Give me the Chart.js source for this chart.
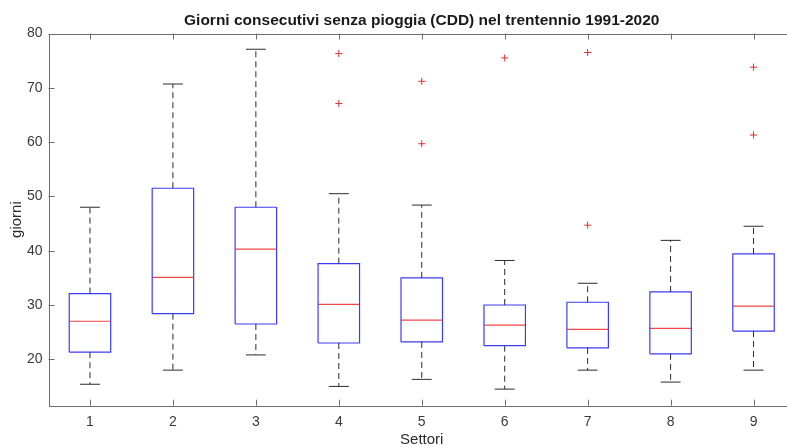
<!DOCTYPE html>
<html>
<head>
<meta charset="utf-8">
<script src="https://cdn.jsdelivr.net/npm/chart.js@4.4.1/dist/chart.umd.min.js"></script>
<style>
html, body { margin: 0; padding: 0; background: #fff; overflow: hidden; }
</style>
</head>
<body>
<canvas id="graficoCDD" width="800" height="447"></canvas>
<script>
const settori = [1, 2, 3, 4, 5, 6, 7, 8, 9];
const baffoSup = [48.0, 70.7, 77.1, 50.5, 48.4, 38.2, 34.0, 41.9, 44.5];
const q3 = [32.1, 51.5, 48.0, 37.6, 35.0, 30.0, 30.5, 32.4, 39.4];
const mediana = [27.0, 35.1, 40.3, 30.1, 27.2, 26.3, 25.5, 25.7, 29.8];
const q1 = [21.3, 28.4, 26.5, 23.0, 23.2, 22.5, 22.1, 21.0, 25.2];
const baffoInf = [15.4, 18.0, 20.8, 15.0, 16.3, 14.5, 18.0, 15.8, 18.0];
const anomali = [[], [], [], [76.3, 67.1], [71.2, 59.7], [75.5], [76.5, 44.7], [], [73.8, 61.3]];
const tickY = [20, 30, 40, 50, 60, 70, 80];

const mezzaScatola = 0.25;
const mezzoCappuccio = 0.12;

let puntiScatole = [], puntiMediane = [], puntiBaffi = [], puntiCappucci = [], puntiAnomali = [];

settori.forEach((x, i) => {
    const a = x - mezzaScatola, b = x + mezzaScatola;
    puntiScatole.push({x: a, y: q1[i]}, {x: b, y: q1[i]}, {x: b, y: q3[i]}, {x: a, y: q3[i]}, {x: a, y: q1[i]}, {x: x, y: null});
    puntiMediane.push({x: a, y: mediana[i]}, {x: b, y: mediana[i]}, {x: x, y: null});
    puntiBaffi.push({x: x, y: q3[i]}, {x: x, y: baffoSup[i]}, {x: x, y: null});
    puntiBaffi.push({x: x, y: q1[i]}, {x: x, y: baffoInf[i]}, {x: x, y: null});
    puntiCappucci.push({x: x - mezzoCappuccio, y: baffoSup[i]}, {x: x + mezzoCappuccio, y: baffoSup[i]}, {x: x, y: null});
    puntiCappucci.push({x: x - mezzoCappuccio, y: baffoInf[i]}, {x: x + mezzoCappuccio, y: baffoInf[i]}, {x: x, y: null});
    anomali[i].forEach(v => puntiAnomali.push({x: x, y: v}));
});

// cornice e tacche interne stile MATLAB
const cornice = {
    id: 'cornice',
    afterLayout(chart) {
        // titolo centrato sull'area del grafico
        if (chart.titleBlock) {
            chart.titleBlock.left = chart.chartArea.left;
            chart.titleBlock.right = chart.chartArea.right;
        }
    },
    afterDraw(chart) {
        const ctx = chart.ctx;
        const area = chart.chartArea;
        const sx = chart.scales.x, sy = chart.scales.y;
        const lung = 6;
        ctx.save();
        ctx.strokeStyle = '#6e6e6e';
        ctx.lineWidth = 1;
        ctx.beginPath();
        settori.forEach(v => {
            const px = Math.round(sx.getPixelForValue(v)) + 0.5;
            ctx.moveTo(px, area.bottom); ctx.lineTo(px, area.bottom - lung);
            ctx.moveTo(px, area.top); ctx.lineTo(px, area.top + lung);
        });
        tickY.forEach(v => {
            const py = Math.round(sy.getPixelForValue(v)) + 0.5;
            ctx.moveTo(area.left, py); ctx.lineTo(area.left + lung, py);
            ctx.moveTo(area.right, py); ctx.lineTo(area.right - lung, py);
        });
        ctx.stroke();
        ctx.strokeRect(Math.round(area.left) + 0.5, Math.round(area.top) + 0.5,
            Math.round(area.right - area.left), Math.round(area.bottom - area.top));
        ctx.restore();
    }
};

const ctx = document.getElementById('graficoCDD').getContext('2d');
const grafico = new Chart(ctx, {
    type: 'scatter',
    data: {
        datasets: [
            {
                label: 'baffi',
                data: puntiBaffi,
                showLine: true,
                spanGaps: false,
                borderColor: '#2b2b2b',
                borderWidth: 1,
                borderDash: [6, 4],
                pointRadius: 0
            },
            {
                label: 'cappucci',
                data: puntiCappucci,
                showLine: true,
                spanGaps: false,
                borderColor: '#2b2b2b',
                borderWidth: 1,
                pointRadius: 0
            },
            {
                label: 'scatole',
                data: puntiScatole,
                showLine: true,
                spanGaps: false,
                borderColor: '#3c3cf0',
                borderWidth: 1.2,
                pointRadius: 0
            },
            {
                label: 'mediane',
                data: puntiMediane,
                showLine: true,
                spanGaps: false,
                borderColor: '#f04848',
                borderWidth: 1.2,
                pointRadius: 0
            },
            {
                label: 'anomali',
                data: puntiAnomali,
                showLine: false,
                pointStyle: 'cross',
                pointRadius: 3.5,
                borderColor: '#e03030',
                borderWidth: 1,
                backgroundColor: '#e03030'
            }
        ]
    },
    options: {
        responsive: false,
        animation: false,
        layout: { padding: { left: 0, right: 5, top: 0, bottom: 0 } },
        plugins: {
            legend: { display: false },
            tooltip: { enabled: false },
            title: {
                display: true,
                text: 'Giorni consecutivi senza pioggia (CDD) nel trentennio 1991-2020',
                color: '#1a1a1a',
                font: { family: 'Liberation Sans, Arial, sans-serif', size: 15.5, weight: 'bold' },
                padding: { top: 11, bottom: 3.9 }
            }
        },
        scales: {
            x: {
                type: 'linear',
                min: 0.5,
                max: 9.5,
                afterBuildTicks: s => { s.ticks = settori.map(v => ({ value: v })); },
                afterFit: s => { s.height = 41.3; },
                grid: { display: false, drawTicks: false },
                border: { display: false },
                ticks: {
                    color: '#3a3a3a',
                    padding: 8,
                    font: { family: 'Liberation Sans, Arial, sans-serif', size: 14 },
                    callback: v => String(v)
                },
                title: {
                    display: true,
                    text: 'Settori',
                    color: '#2a2a2a',
                    font: { family: 'Liberation Sans, Arial, sans-serif', size: 15, lineHeight: 1 },
                    padding: { top: 0, bottom: 0 }
                }
            },
            y: {
                min: 11.45,
                max: 80,
                afterBuildTicks: s => { s.ticks = tickY.map(v => ({ value: v })); },
                afterFit: s => { s.width = 48.5; },
                grid: { display: false, drawTicks: false },
                border: { display: false },
                ticks: {
                    color: '#3a3a3a',
                    padding: 6,
                    font: { family: 'Liberation Sans, Arial, sans-serif', size: 14 }
                },
                title: {
                    display: true,
                    text: 'giorni',
                    color: '#2a2a2a',
                    font: { family: 'Liberation Sans, Arial, sans-serif', size: 15, lineHeight: 1 },
                    padding: { top: 9, bottom: 0 }
                }
            }
        }
    },
    plugins: [cornice]
});
</script>
</body>
</html>
